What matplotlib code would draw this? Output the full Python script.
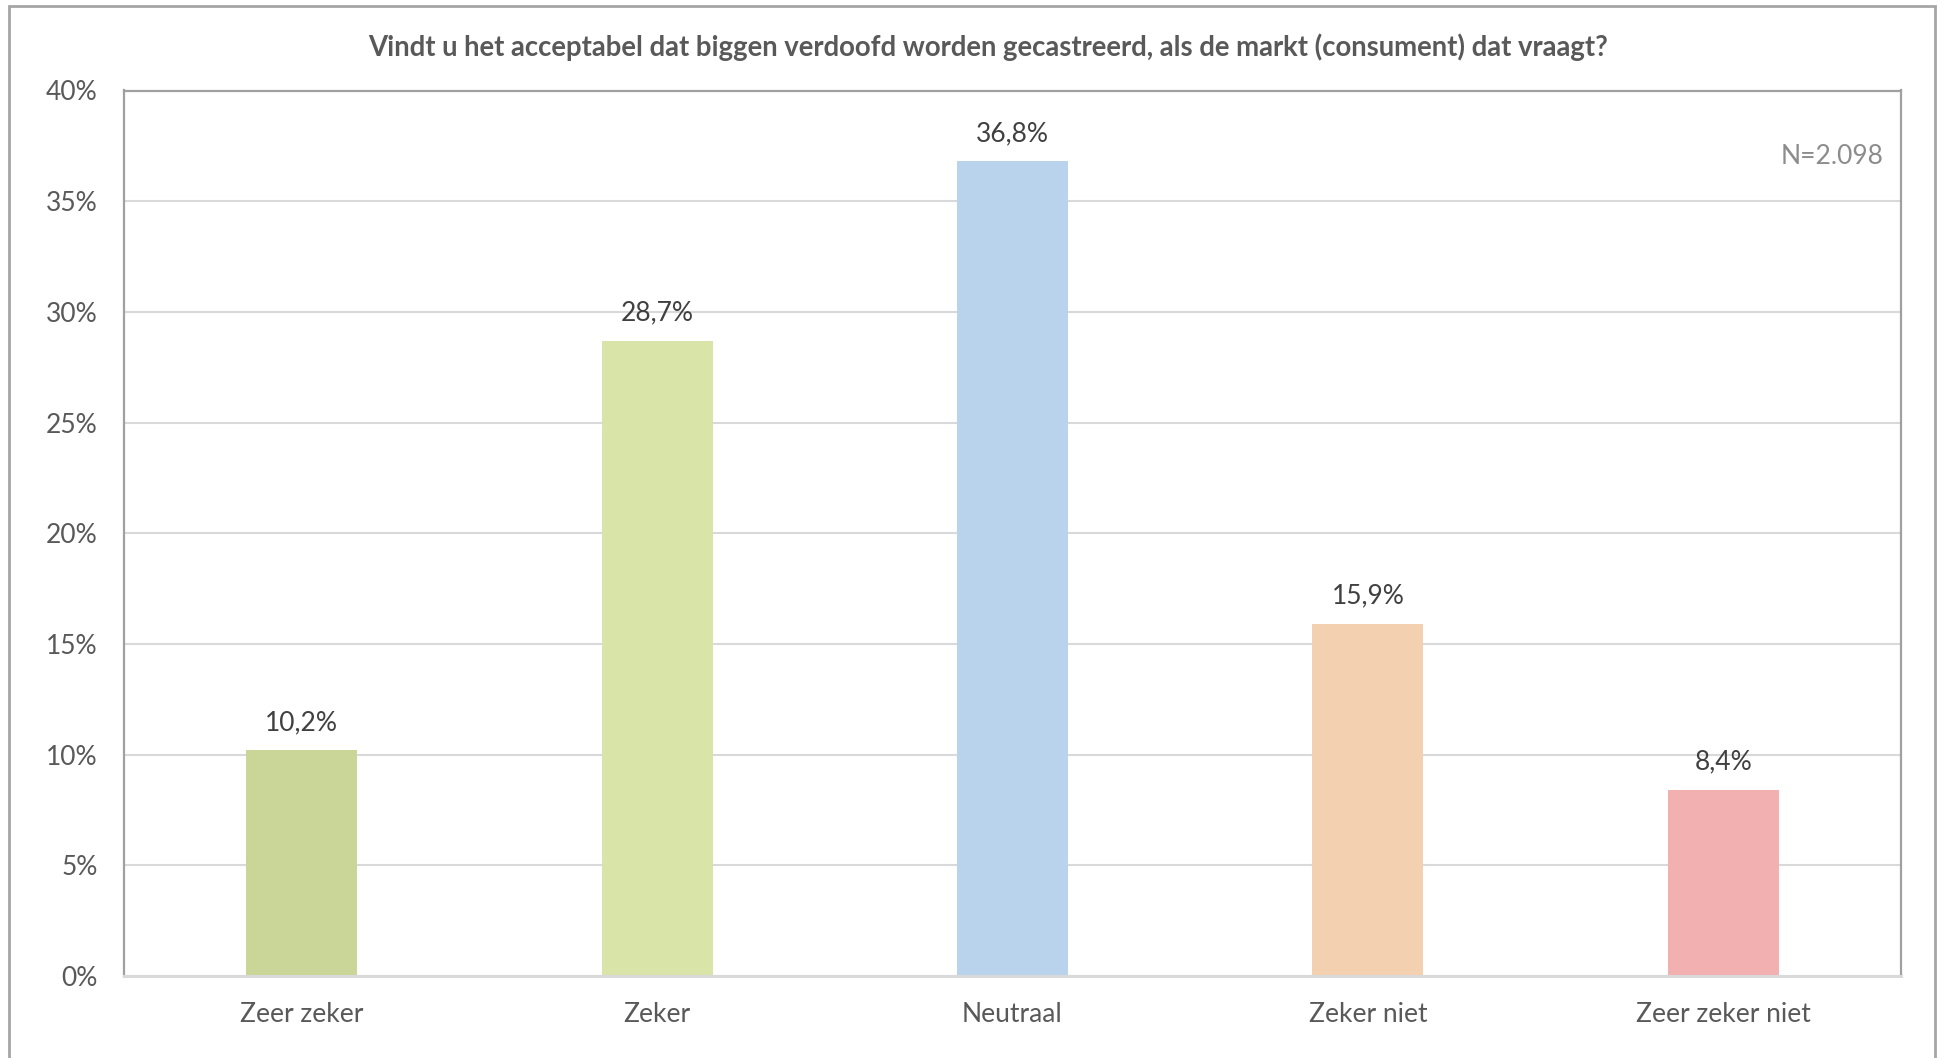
import matplotlib
matplotlib.use("Agg")
import matplotlib.pyplot as plt
from matplotlib.patches import Rectangle
from matplotlib.ticker import MultipleLocator, FuncFormatter

categories = ["Zeer zeker", "Zeker", "Neutraal", "Zeker niet", "Zeer zeker niet"]
values = [10.2, 28.7, 36.8, 15.9, 8.4]
colors = ["#cad698", "#d9e4a8", "#b8d3eb", "#f3d0b0", "#f3b0b0"]
title = "Vindt u het acceptabel dat biggen verdoofd worden gecastreerd, als de markt (consument) dat vraagt?"
note = "N=2.098"

plt.rcParams["font.family"] = ["Lato", "DejaVu Sans"]

W, H = 1945, 1058
fig = plt.figure(figsize=(W / 100, H / 100), dpi=100)

# outer chart border (bottom edge falls outside the image)
fig.patches.append(Rectangle((9 / W, -0.02), (1935 - 9) / W, 1.02 - 6 / H,
                             transform=fig.transFigure, fill=False,
                             edgecolor="#a6a6a6", linewidth=2))

ax = fig.add_axes([124 / W, (H - 976) / H, 1777 / W, 885.5 / H])

x = range(len(categories))
ax.bar(x, values, width=0.312, color=colors, zorder=3)
ax.set_xlim(-0.5, len(categories) - 0.5)
ax.set_ylim(0, 40)
ax.yaxis.set_major_locator(MultipleLocator(5))
ax.yaxis.set_major_formatter(FuncFormatter(lambda v, p: f"{v:.0f}%"))
ax.grid(axis="y", color="#d9d9d9", linewidth=1.5, zorder=0)
ax.set_xticks(list(x))
ax.set_xticklabels(categories)
ax.tick_params(length=0, labelsize=19, colors="#595959")
ax.tick_params(axis="x", pad=19)
ax.tick_params(axis="y", pad=19)

for side in ["left", "top", "right"]:
    ax.spines[side].set_color("#a0a0a0")
    ax.spines[side].set_linewidth(1.6)
ax.spines["bottom"].set_color("#d9d9d9")
ax.spines["bottom"].set_linewidth(2.2)
ax.spines["bottom"].set_zorder(4)

for i, v in enumerate(values):
    ax.annotate(f"{v:.1f}%".replace(".", ","), (i, v), xytext=(0, 20),
                textcoords="offset points", ha="center", va="center",
                fontsize=19, color="#404040")

ax.text(0.99, 0.925, note, transform=ax.transAxes, ha="right", va="center",
        fontsize=19, color="#8c8c8c")

fig.text(988 / W, 1 - 47 / H, title, ha="center", va="center",
         fontsize=19.8, fontweight="bold", color="#595959")

fig.savefig("out.png", dpi=100)
